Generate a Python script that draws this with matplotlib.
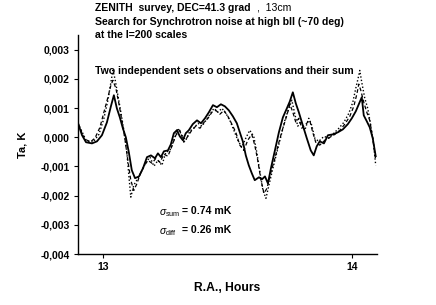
import numpy as np
import matplotlib.pyplot as plt
from matplotlib.ticker import FuncFormatter

plt.rcParams['font.family'] = ['Liberation Sans', 'DejaVu Sans']
plt.rcParams['mathtext.fontset'] = 'custom'
plt.rcParams['mathtext.rm'] = 'Liberation Sans'
plt.rcParams['mathtext.it'] = 'Liberation Sans:italic'

# R.A. (hours) and Ta (K)
ra_sum = [12.900, 12.916, 12.932, 12.956, 12.976, 12.996, 13.016, 13.032, 13.044, 13.056,
          13.068, 13.080, 13.092, 13.104, 13.116, 13.129, 13.145, 13.161, 13.177, 13.193,
          13.209, 13.221, 13.233, 13.245, 13.261, 13.273, 13.285, 13.297, 13.309, 13.321,
          13.333, 13.345, 13.361, 13.378, 13.394, 13.410, 13.426, 13.442, 13.458, 13.474,
          13.490, 13.506, 13.522, 13.538, 13.550, 13.562, 13.574, 13.586, 13.598, 13.610,
          13.627, 13.639, 13.651, 13.663, 13.675, 13.691, 13.707, 13.723, 13.739, 13.751,
          13.763, 13.775, 13.787, 13.803, 13.819, 13.835, 13.847, 13.859, 13.871, 13.888,
          13.904, 13.924, 13.944, 13.964, 13.984, 14.000, 14.016, 14.028, 14.040, 14.048,
          14.060, 14.072, 14.084, 14.096]
ta_sum = [0.00048, 0.00007, -0.00017, -0.00021, -0.00014, 0.00007, 0.00051, 0.00106, 0.00144, 0.00099,
          0.00068, 0.00031, 0.00000, -0.00051, -0.00113, -0.00140, -0.00134, -0.00106, -0.00068, -0.00062,
          -0.00072, -0.00055, -0.00068, -0.00048, -0.00045, -0.00024, 0.00014, 0.00024, 0.00003, -0.00010,
          0.00014, 0.00024, 0.00045, 0.00058, 0.00048, 0.00065, 0.00086, 0.00110, 0.00103, 0.00113,
          0.00106, 0.00092, 0.00072, 0.00048, 0.00017, -0.00014, -0.00062, -0.00096, -0.00123, -0.00147,
          -0.00137, -0.00144, -0.00134, -0.00158, -0.00106, -0.00045, 0.00017, 0.00068, 0.00099, 0.00123,
          0.00154, 0.00116, 0.00086, 0.00041, -0.00003, -0.00045, -0.00062, -0.00031, -0.00014, -0.00021,
          0.00007, 0.00010, 0.00017, 0.00027, 0.00045, 0.00065, 0.00089, 0.00113, 0.00137, 0.00075,
          0.00055, 0.00034, -0.00003, -0.00065]

ra_set1 = [12.900, 12.924, 12.948, 12.968, 12.988, 13.004, 13.020, 13.032, 13.040, 13.052,
           13.064, 13.076, 13.088, 13.100, 13.112, 13.124, 13.137, 13.149, 13.165, 13.181,
           13.197, 13.213, 13.229, 13.245, 13.261, 13.277, 13.293, 13.309, 13.325, 13.341,
           13.357, 13.373, 13.390, 13.406, 13.422, 13.438, 13.454, 13.470, 13.486, 13.502,
           13.518, 13.534, 13.550, 13.566, 13.582, 13.598, 13.610, 13.622, 13.635, 13.647,
           13.659, 13.675, 13.691, 13.707, 13.723, 13.739, 13.751, 13.763, 13.775, 13.787,
           13.799, 13.815, 13.831, 13.843, 13.855, 13.871, 13.892, 13.912, 13.932, 13.952,
           13.972, 13.992, 14.008, 14.020, 14.028, 14.036, 14.048, 14.060, 14.072, 14.084,
           14.096]
ta_set1 = [0.00048, -0.00003, -0.00017, -0.00003, 0.00034, 0.00086, 0.00137, 0.00178, 0.00195, 0.00168,
           0.00116, 0.00058, -0.00003, -0.00079, -0.00147, -0.00182, -0.00158, -0.00127, -0.00099, -0.00079,
           -0.00089, -0.00072, -0.00086, -0.00058, -0.00065, -0.00031, 0.00007, 0.00024, -0.00017, 0.00003,
           0.00024, 0.00038, 0.00031, 0.00051, 0.00065, 0.00086, 0.00092, 0.00079, 0.00092, 0.00072,
           0.00045, 0.00017, -0.00027, -0.00045, -0.00010, 0.00010, -0.00027, -0.00079, -0.00147, -0.00192,
           -0.00175, -0.00120, -0.00072, -0.00017, 0.00031, 0.00075, 0.00113, 0.00086, 0.00051, 0.00065,
           0.00031, 0.00045, 0.00058, 0.00017, -0.00017, -0.00027, -0.00010, 0.00000, 0.00010, 0.00024,
           0.00045, 0.00072, 0.00106, 0.00147, 0.00182, 0.00161, 0.00120, 0.00086, 0.00058, -0.00003,
           -0.00079]

ra_set2 = [12.900, 12.932, 12.960, 12.984, 13.004, 13.020, 13.032, 13.040, 13.048, 13.060,
           13.072, 13.084, 13.096, 13.104, 13.112, 13.124, 13.141, 13.157, 13.173, 13.189,
           13.205, 13.221, 13.237, 13.253, 13.269, 13.285, 13.301, 13.317, 13.333, 13.349,
           13.365, 13.382, 13.398, 13.414, 13.430, 13.446, 13.462, 13.478, 13.494, 13.510,
           13.526, 13.542, 13.558, 13.574, 13.590, 13.606, 13.618, 13.631, 13.643, 13.655,
           13.667, 13.683, 13.699, 13.715, 13.731, 13.747, 13.759, 13.771, 13.783, 13.795,
           13.811, 13.827, 13.839, 13.851, 13.867, 13.888, 13.908, 13.928, 13.948, 13.968,
           13.988, 14.004, 14.016, 14.028, 14.032, 14.040, 14.052, 14.064, 14.076, 14.088,
           14.096]
ta_set2 = [0.00048, -0.00010, -0.00017, 0.00010, 0.00065, 0.00127, 0.00188, 0.00229, 0.00202, 0.00144,
           0.00086, 0.00024, -0.00051, -0.00130, -0.00205, -0.00164, -0.00140, -0.00113, -0.00086, -0.00068,
           -0.00099, -0.00079, -0.00096, -0.00051, -0.00045, -0.00010, 0.00031, 0.00007, -0.00010, 0.00021,
           0.00031, 0.00048, 0.00038, 0.00058, 0.00079, 0.00099, 0.00086, 0.00099, 0.00082, 0.00058,
           0.00024, -0.00010, -0.00034, -0.00003, 0.00024, 0.00003, -0.00051, -0.00120, -0.00182, -0.00209,
           -0.00164, -0.00106, -0.00051, 0.00003, 0.00058, 0.00099, 0.00127, 0.00079, 0.00038, 0.00055,
           0.00024, 0.00065, 0.00041, -0.00003, -0.00014, 0.00003, -0.00003, 0.00014, 0.00031, 0.00051,
           0.00082, 0.00120, 0.00168, 0.00212, 0.00229, 0.00188, 0.00134, 0.00099, 0.00041, -0.00027,
           -0.00096]

yticks = [0.003, 0.002, 0.001, 0.0, -0.001, -0.002, -0.003, -0.004]
xticks = [13, 14]

fig = plt.figure(figsize=(4.36, 3.05), dpi=100)
ax = fig.add_axes([0.179, 0.167, 0.685, 0.718])

ax.plot(ra_set2, ta_set2, color='black', linestyle=(0, (1, 1.5)), linewidth=1.0)
ax.plot(ra_set1, ta_set1, color='black', linestyle=(0, (3, 2)), linewidth=0.9)
ax.plot(ra_sum, ta_sum, color='black', linestyle='-', linewidth=1.3)

ax.set_xlim(12.9, 14.1)
ax.set_ylim(-0.004, 0.0035)
ax.set_yticks(yticks)
ax.set_xticks(xticks)
ax.yaxis.set_major_formatter(FuncFormatter(lambda v, p: ('%.3f' % v).replace('.', ',')))

for s in ['top', 'right']:
    ax.spines[s].set_visible(False)
ax.spines['left'].set_linewidth(1.0)
ax.spines['bottom'].set_linewidth(1.0)
ax.tick_params(direction='out', length=3, width=0.8, labelsize=7.5, pad=3)
for lab in ax.get_xticklabels() + ax.get_yticklabels():
    lab.set_fontweight('bold')

ax.set_ylabel('Ta, K', fontsize=8, fontweight='bold', labelpad=9)
ax.set_xlabel('R.A., Hours', fontsize=8.7, fontweight='bold', labelpad=7)

fig.text(95 / 436, 1 - 8 / 305, 'ZENITH  survey, DEC=41.3 grad', fontsize=7.5,
         fontweight='bold', va='center')
fig.text(257 / 436, 1 - 8 / 305, ',  13cm', fontsize=7.6, va='center')
fig.text(95 / 436, 1 - 22 / 305, 'Search for Synchrotron noise at high bII (~70 deg)',
         fontsize=7.6, fontweight='bold', va='center')
fig.text(95 / 436, 1 - 35 / 305, 'at the l=200 scales', fontsize=7.6,
         fontweight='bold', va='center')
fig.text(95 / 436, 1 - 71 / 305, 'Two independent sets o observations and their sum',
         fontsize=7.6, fontweight='bold', va='center')

fig.text(159 / 436, 1 - 213 / 305, r'$\sigma_{\rm sum}$', fontsize=7.5, va='center')
fig.text(182 / 436, 1 - 211 / 305, '= 0.74 mK', fontsize=7.6, fontweight='bold', va='center')
fig.text(159 / 436, 1 - 232 / 305, r'$\sigma_{\rm diff}$', fontsize=7.5, va='center')
fig.text(182 / 436, 1 - 230 / 305, '= 0.26 mK', fontsize=7.6, fontweight='bold', va='center')

fig.savefig('out.png', dpi=100)
